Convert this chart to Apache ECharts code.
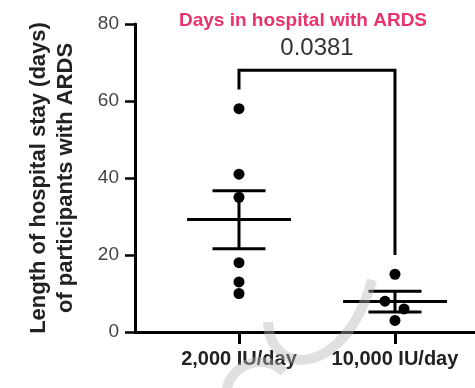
<!DOCTYPE html>
<html><head><meta charset="utf-8">
<script src="https://cdn.jsdelivr.net/npm/echarts@6/dist/echarts.min.js"></script>
<style>html,body{margin:0;padding:0;background:#fff}#c{width:475px;height:388px}</style>
</head><body><div id="c"></div>
<script>
const categories = ['2,000 IU/day', '10,000 IU/day'];
const group1 = [58, 41, 35, 18, 13, 10];
const group1Jitter = [0, 0, 0, 0, 0, 0];
const group2 = [15, 8, 6, 3];
const group2Jitter = [0, -0.064, 0.058, 0];
const means = [29.2, 7.9];
const semUpper = [36.7, 10.6];
const semLower = [21.6, 5.2];
const pValue = '0.0381';
const bracket = { left: 63, top: 68, right: 20 };
const yTicks = [0, 20, 40, 60, 80];

const catPos = [1, 2];
const scatterData = [];
group1.forEach((v, i) => scatterData.push([catPos[0] + group1Jitter[i], v]));
group2.forEach((v, i) => scatterData.push([catPos[1] + group2Jitter[i], v]));

const errData = means.map((m, i) => [catPos[i], m, semLower[i], semUpper[i]]);
const FONT = 'Liberation Sans, Arial, sans-serif';
const WM = { stroke: 'rgba(180,180,180,0.42)', lineWidth: 10, fill: null };

const chart = echarts.init(document.getElementById('c'));
chart.setOption({
  animation: false,
  title: {
    text: 'Days in hospital with ARDS',
    left: 298, top: 6, textAlign: 'center',
    textStyle: { color: '#e8336d', fontSize: 19, fontWeight: 'bold', fontFamily: FONT }
  },
  graphic: [
    { type: 'bezierCurve', z: 100, silent: true,
      shape: { x1: 372, y1: 280, cpx1: 345, cpy1: 378, cpx2: 270, cpy2: 378, x2: 268, y2: 322 }, style: WM },
    { type: 'arc', z: 100, silent: true,
      shape: { cx: 260, cy: 396, r: 34, startAngle: Math.PI * 1.05, endAngle: Math.PI * 1.75 }, style: WM }
  ],
  grid: { left: 135, right: 0, top: 24, bottom: 56 },
  xAxis: {
    type: 'value', min: 0.3333, max: 2.513,
    splitLine: { show: false },
    axisLine: { show: true, onZero: false, lineStyle: { color: '#000', width: 3 } },
    axisTick: { show: true, customValues: catPos, length: 12, lineStyle: { color: '#000', width: 3 } },
    axisLabel: {
      customValues: catPos, margin: 17,
      formatter: v => categories[catPos.indexOf(Math.round(v))] || '',
      color: '#222', fontSize: 20, fontWeight: 'bold', fontFamily: FONT
    }
  },
  yAxis: {
    type: 'value', min: 0, max: 80, interval: 20,
    name: 'Length of hospital stay (days)\nof participants with ARDS',
    nameLocation: 'middle', nameGap: 56,
    nameTextStyle: { color: '#222', fontSize: 22, fontWeight: 'bold', lineHeight: 27, fontFamily: FONT },
    splitLine: { show: false },
    axisLine: { show: true, lineStyle: { color: '#000', width: 3 } },
    axisTick: { show: true, length: 10, lineStyle: { color: '#000', width: 2.5 } },
    axisLabel: {
      customValues: yTicks, margin: 16, color: '#444', fontSize: 19, fontFamily: FONT
    }
  },
  series: [
    {
      type: 'custom',
      data: errData,
      z: 3,
      renderItem: function (params, api) {
        const x = api.value(0);
        const m = api.coord([x, api.value(1)]);
        const lo = api.coord([x, api.value(2)]);
        const hi = api.coord([x, api.value(3)]);
        const mL = api.coord([x - 0.333, api.value(1)]);
        const mR = api.coord([x + 0.333, api.value(1)]);
        const cw = api.size([0.17, 0])[0];
        const st = { stroke: '#000', lineWidth: 3 };
        return {
          type: 'group',
          children: [
            { type: 'line', shape: { x1: mL[0], y1: m[1], x2: mR[0], y2: m[1] }, style: st },
            { type: 'line', shape: { x1: lo[0], y1: lo[1], x2: hi[0], y2: hi[1] }, style: st },
            { type: 'line', shape: { x1: hi[0] - cw, y1: hi[1], x2: hi[0] + cw, y2: hi[1] }, style: st },
            { type: 'line', shape: { x1: lo[0] - cw, y1: lo[1], x2: lo[0] + cw, y2: lo[1] }, style: st }
          ]
        };
      }
    },
    {
      type: 'scatter',
      data: scatterData,
      symbolSize: 11,
      itemStyle: { color: '#000', opacity: 1 },
      z: 4
    },
    {
      type: 'custom',
      data: [[catPos[0], catPos[1], bracket.left, bracket.top, bracket.right]],
      renderItem: function (params, api) {
        const p1 = api.coord([api.value(0), api.value(2)]);
        const p2 = api.coord([api.value(0), api.value(3)]);
        const p3 = api.coord([api.value(1), api.value(3)]);
        const p4 = api.coord([api.value(1), api.value(4)]);
        const tp = api.coord([(api.value(0) + api.value(1)) / 2, api.value(3)]);
        return {
          type: 'group',
          children: [
            { type: 'polyline', shape: { points: [p1, p2, p3, p4] }, style: { stroke: '#000', lineWidth: 3, fill: null } },
            { type: 'text', x: tp[0], y: tp[1] - 10, style: { text: pValue, textAlign: 'center', textVerticalAlign: 'bottom', fill: '#333', fontSize: 24, fontFamily: FONT } }
          ]
        };
      }
    }
  ]
});
</script></body></html>
